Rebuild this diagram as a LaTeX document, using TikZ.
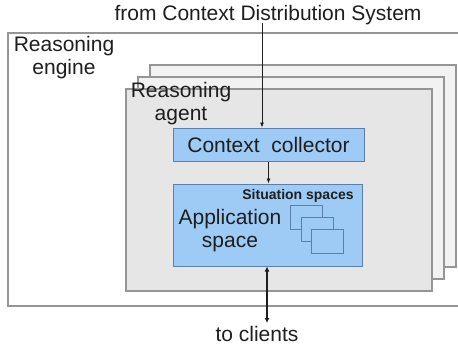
\documentclass[tikz,border=0pt]{standalone}
\usepackage{fontspec}
\setmainfont{Liberation Sans}
\definecolor{TextDark}{HTML}{1E1E1E}
\definecolor{FrameGray}{HTML}{959595}
\definecolor{AgentGray}{HTML}{E6E6E6}
\definecolor{AgentBack}{HTML}{F2F2F2}
\definecolor{PaleBlue}{HTML}{9DCBF5}
\definecolor{EdgeBlue}{HTML}{5A7FAE}
\usepackage{tikz}
\usetikzlibrary{arrows.meta, positioning}
\tikzset{
  frame/.style={draw=FrameGray, line width=1.4pt, inner sep=0pt},
  bluebox/.style={draw=EdgeBlue, line width=1pt, fill=PaleBlue, inner sep=0pt},
  label/.style={align=center, text=TextDark, font=\fontsize{21bp}{23bp}\selectfont},
  arrow/.style={-{Latex[length=5bp, width=4bp]}, line width=0.8pt, draw=TextDark}
}

\begin{document}
\begin{tikzpicture}[x=1bp, y=-1bp,
  agent/.style={frame, fill=AgentGray, minimum width=306bp, minimum height=202bp},
  sit/.style={bluebox, minimum width=32bp, minimum height=24bp}
]
\useasboundingbox (0,0) rectangle (458,346);
\node[frame, fill=white, minimum width=454bp, minimum height=273bp] (engine) at (235,169.5) {};
\node[label] (enginetxt) at (64,58) {Reasoning\\engine};

\node[agent, fill=AgentBack] (agent3) at (303,166) {};
\node[agent, fill=AgentBack] (agent2) at (291,178) {};
\node[agent] (agent1) at (279,190) {};
\node[label] (agenttxt) at (181,104) {Reasoning\\agent};

\node[bluebox, label, minimum width=191bp, minimum height=33bp] (coll) at (268.5,144.5) {Context\ \ collector};
\node[bluebox, minimum width=189bp, minimum height=82bp] (app) at (267.5,225) {};
\node[label] (apptxt) at (230,231) {Application\\space};
\node[text=TextDark, font=\fontsize{14bp}{16bp}\selectfont\bfseries] (sittxt) at (298,196) {Situation spaces};
\node[sit] (sit1) at (306,217) {};
\node[sit] (sit2) at (317,229) {};
\node[sit] (sit3) at (327,241) {};

\node[label] (cds) at (268,15) {from Context Distribution System};
\node[label] (clients) at (257,334) {to clients};

\coordinate (in) at (262,23);
\coordinate (out) at (267,323);
\draw[arrow] (in) -- (in |- coll.north);
\draw[arrow] (coll.south) -- (coll.south |- app.north);
\draw[{Latex[length=5bp, width=5bp]}-{Latex[length=5bp, width=5bp]}, line width=1.8pt, draw=TextDark] (app.south -| out) -- (out);
\end{tikzpicture}
\end{document}
